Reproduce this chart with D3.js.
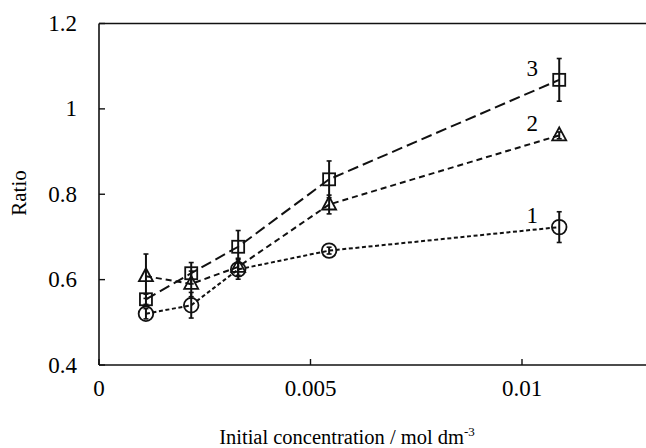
<!DOCTYPE html>
<html>
<head>
<meta charset="utf-8">
<script src="https://cdn.jsdelivr.net/npm/d3@7"></script>
<style>
  html, body { margin: 0; padding: 0; background: #fff; }
  svg { display: block; }
  text { font-family: "Liberation Serif", "Times New Roman", serif; fill: #000; }
</style>
</head>
<body>
<svg id="chart" width="646" height="448"></svg>
<script>
// Initial concentration (mol dm^-3) of each measurement
const conc = [0.00111, 0.00218, 0.00329, 0.00544, 0.01088];

// Ratio values and error-bar half-widths for the three runs
const ratio1 = [0.520, 0.540, 0.624, 0.668, 0.723];
const err1   = [0.012, 0.030, 0.023, 0.008, 0.036];
const ratio2 = [0.608, 0.590, 0.630, 0.776, 0.938];
const err2   = [0.052, 0.030, 0.020, 0.022, 0.008];
const ratio3 = [0.554, 0.615, 0.677, 0.835, 1.068];
const err3   = [0.012, 0.025, 0.038, 0.043, 0.050];

const seriesNames = ["1", "2", "3"];
const xTicks = [0, 0.005, 0.01];
const xTickLabels = ["0", "0.005", "0.01"];
const yTicks = [0.4, 0.6, 0.8, 1.0, 1.2];
const yTickLabels = ["0.4", "0.6", "0.8", "1", "1.2"];

const svg = d3.select("#chart");
const W = 646;
const plotLeft = 99, plotTop = 23.5, plotBottom = 365;

const x = d3.scaleLinear().domain([0, 0.013]).range([plotLeft, plotLeft + 42.3 * 13]);
const y = d3.scaleLinear().domain([0.4, 1.2]).range([plotBottom, plotTop]);

const ink = "#111";

// frame: left axis, bottom axis and top line
svg.append("line").attr("x1", plotLeft).attr("x2", W + 5).attr("y1", y(1.2)).attr("y2", y(1.2))
  .attr("stroke", ink).attr("stroke-width", 1.6);
svg.append("line").attr("x1", plotLeft).attr("x2", W + 5).attr("y1", y(0.4)).attr("y2", y(0.4))
  .attr("stroke", ink).attr("stroke-width", 1.6);
svg.append("line").attr("x1", plotLeft).attr("x2", plotLeft).attr("y1", y(1.2)).attr("y2", y(0.4))
  .attr("stroke", ink).attr("stroke-width", 1.6);

// y ticks point inward
svg.selectAll(".ytick").data(yTicks).join("line")
  .attr("x1", plotLeft).attr("x2", plotLeft + 6)
  .attr("y1", d => y(d)).attr("y2", d => y(d))
  .attr("stroke", ink).attr("stroke-width", 1.4);
svg.selectAll(".ylab").data(yTicks).join("text")
  .attr("x", 77).attr("y", d => y(d)).attr("dy", "0.33em")
  .attr("text-anchor", "end").attr("font-size", 23)
  .text((d, i) => yTickLabels[i]);

// x ticks point inward
svg.selectAll(".xtick").data(xTicks).join("line")
  .attr("x1", d => x(d)).attr("x2", d => x(d))
  .attr("y1", plotBottom).attr("y2", plotBottom - 6)
  .attr("stroke", ink).attr("stroke-width", 1.4);
svg.selectAll(".xlab").data(xTicks).join("text")
  .attr("x", d => x(d)).attr("y", 388).attr("dy", "0.35em")
  .attr("text-anchor", "middle").attr("font-size", 23)
  .text((d, i) => xTickLabels[i]);

// axis titles
const xt = svg.append("text").attr("x", 347).attr("y", 444)
  .attr("text-anchor", "middle").attr("font-size", 20.5);
xt.append("tspan").text("Initial concentration / mol dm");
xt.append("tspan").attr("font-size", 13).attr("dy", -8).text("-3");

svg.append("text").attr("transform", "translate(26,193) rotate(-90)")
  .attr("text-anchor", "middle").attr("font-size", 21).text("Ratio");

const series = [
  { name: seriesNames[0], v: ratio1, e: err1, dash: "4,2.6", marker: "circle" },
  { name: seriesNames[1], v: ratio2, e: err2, dash: "6,4", marker: "triangle" },
  { name: seriesNames[2], v: ratio3, e: err3, dash: "11,5", marker: "square" }
];

const line = d3.line().x(d => x(d[0])).y(d => y(d[1]));

series.forEach(s => {
  const pts = conc.map((c, i) => [c, s.v[i], s.e[i]]);
  const g = svg.append("g");

  g.append("path").datum(pts).attr("d", line)
    .attr("fill", "none").attr("stroke", ink).attr("stroke-width", 2)
    .attr("stroke-dasharray", s.dash);

  // error bars with caps
  pts.forEach(p => {
    const cx = x(p[0]), y1 = y(p[1] - p[2]), y2 = y(p[1] + p[2]);
    g.append("line").attr("x1", cx).attr("x2", cx).attr("y1", y1).attr("y2", y2)
      .attr("stroke", ink).attr("stroke-width", 2);
    [y1, y2].forEach(yy => g.append("line")
      .attr("x1", cx - 2.5).attr("x2", cx + 2.5).attr("y1", yy).attr("y2", yy)
      .attr("stroke", ink).attr("stroke-width", 1.6));
  });

  // markers
  pts.forEach(p => {
    const cx = x(p[0]), cy = y(p[1]);
    if (s.marker === "circle") {
      g.append("circle").attr("cx", cx).attr("cy", cy).attr("r", 7.3)
        .attr("fill", "none").attr("stroke", ink).attr("stroke-width", 1.8);
    } else if (s.marker === "square") {
      g.append("rect").attr("x", cx - 6).attr("y", cy - 6).attr("width", 12).attr("height", 12)
        .attr("fill", "none").attr("stroke", ink).attr("stroke-width", 1.8);
    } else {
      g.append("path")
        .attr("d", `M${cx},${cy - 8} L${cx + 7},${cy + 5} L${cx - 7},${cy + 5} Z`)
        .attr("fill", "none").attr("stroke", ink).attr("stroke-width", 1.8);
    }
  });

  // series number beside the last point
  const last = pts[pts.length - 1];
  svg.append("text").attr("x", x(last[0]) - 27).attr("y", y(last[1]) - 4)
    .attr("text-anchor", "middle").attr("font-size", 23).text(s.name);
});
</script>
</body>
</html>
